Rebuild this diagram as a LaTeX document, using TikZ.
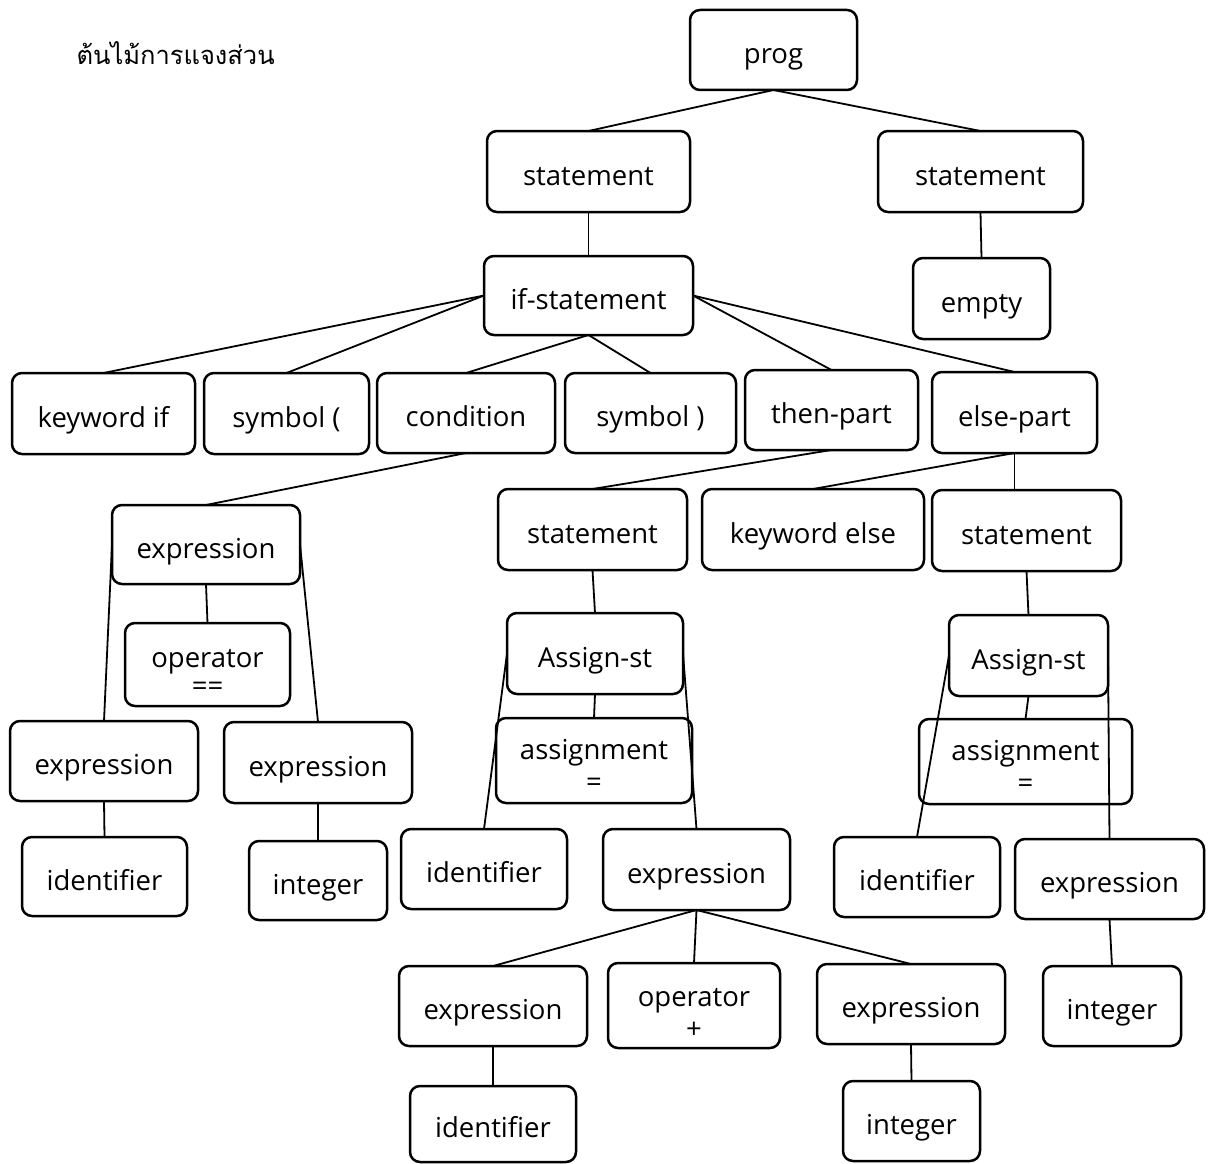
\documentclass[tikz,border=0pt]{standalone}
\usepackage{fontspec}
\setmainfont{Open Sans}
\newfontfamily\thaifont[Script=Thai]{Loma}
\newcommand\lbl{\fontsize{27.5}{27}\selectfont}

\tikzset{
  box/.style={draw, line width=2.5pt, rounded corners=10pt, inner sep=0pt,
              outer sep=0pt, align=center, font=\lbl},
  oneline/.style={text height=30pt, text depth=3pt},
  twoline/.style={},
  link/.style={line width=1.8pt},
}

% \treebox[style]{name}{left}{top}{right}{bottom}{text}
\newcommand\treebox[7][oneline]{%
  \node[box, #1, minimum width={(#5-#3)*1pt}, minimum height={(#6-#4)*1pt}]
    (#2) at ({(#3+#5)/2},{(#4+#6)/2}) {#7};}
% first line of a two-line label, lifted to the given height
\newcommand\topline[2]{\rule{0pt}{#1pt}#2}

\begin{document}
\begin{tikzpicture}[x=1pt,y=-1pt]
\useasboundingbox (0,0) rectangle (1208,1164);

\node[anchor=base west, font=\thaifont\fontsize{25.5}{30}\selectfont] (title) at (73,65) {ต้นไม้การแจงส่วน};

% top levels
\treebox{prog}{690}{10}{857}{90}{prog}
\treebox{stmtL}{487}{131}{690}{212}{statement}
\treebox{stmtR}{878}{131}{1083}{212}{statement}
\treebox{ifst}{484}{256}{693}{335}{if-statement}
\treebox{empty}{913}{258}{1050}{339}{empty}

% children of the if-statement
\treebox{kwif}{12}{373}{195}{454}{keyword if}
\treebox{symL}{204}{373}{369}{454}{symbol (}
\treebox{cond}{377}{373}{555}{453}{condition}
\treebox{symR}{565}{373}{736}{453}{symbol )}
\treebox{then}{745}{370}{918}{450}{then-part}
\treebox{else}{932}{372}{1097}{453}{else-part}

% condition subtree
\treebox{exprC}{112}{505}{300}{584}{expression}
\treebox[twoline]{opEq}{125}{623}{290}{706}{\topline{34}{operator}\\[1pt]==}
\treebox{exprL}{10}{721}{198}{801}{expression}
\treebox{exprR}{224}{722}{412}{803}{expression}
\treebox{idL}{22}{837}{187}{916}{identifier}
\treebox{intL}{249}{841}{387}{920}{integer}

% then / else parts
\treebox{stmtT}{498}{489}{687}{570}{statement}
\treebox{kwelse}{702}{489}{924}{570}{keyword else}
\treebox{stmtE}{932}{490}{1121}{571}{statement}

% then-part assignment
\treebox{asgT}{507}{613}{683}{694}{Assign-st}
\treebox[twoline]{assT}{496}{718}{692}{803}{\topline{30}{assignment}\\[5pt]=}
\treebox{idT}{401}{829}{567}{909}{identifier}
\treebox{exT}{603}{829}{790}{910}{expression}
\treebox{exT1}{399}{966}{587}{1046}{expression}
\treebox[twoline]{opPlus}{608}{963}{780}{1048}{\topline{33}{operator}\\[5pt]+}
\treebox{exT2}{817}{964}{1005}{1044}{expression}
\treebox{idT2}{410}{1086}{576}{1162}{identifier}
\treebox{intT}{843}{1081}{980}{1161}{integer}

% else-part assignment
\treebox{asgE}{949}{615}{1108}{696}{Assign-st}
\treebox[twoline]{assE}{919}{719}{1132}{804}{\topline{29}{assignment}\\[5pt]=}
\treebox{idE}{834}{837}{1000}{917}{identifier}
\treebox{exE}{1015}{839}{1204}{919}{expression}
\treebox{intE}{1043}{966}{1181}{1046}{integer}

% connectors
\draw[link] (prog.south) -- (stmtL.north);
\draw[link] (prog.south) -- (stmtR.north);
\draw[link] (stmtL.south) -- (ifst.north);
\draw[link] (stmtR.south) -- (empty.north);
\draw[link] (ifst.west) -- (kwif.north);
\draw[link] (ifst.west) -- (symL.north);
\draw[link] (ifst.south) -- (cond.north);
\draw[link] (ifst.south) -- (symR.north);
\draw[link] (ifst.east) -- (then.north);
\draw[link] (ifst.east) -- (else.north);

\draw[link] (cond.south) -- (exprC.north);
\draw[link] (exprC.south) -- (opEq.north);
\draw[link] (exprC.west) -- (exprL.north);
\draw[link] (exprC.east) -- (exprR.north);
\draw[link] (exprL.south) -- (idL.north);
\draw[link] (exprR.south) -- (intL.north);

\draw[link] (then.south) -- (stmtT.north);
\draw[link] (else.south) -- (kwelse.north);
\draw[link] (else.south) -- (else.south |- stmtE.north);

\draw[link] (stmtT.south) -- (asgT.north);
\draw[link] (asgT.south) -- (assT.north);
\draw[link] (asgT.west) -- (idT.north);
\draw[link] (asgT.east) -- (exT.north);
\draw[link] (exT.south) -- (exT1.north);
\draw[link] (exT.south) -- (opPlus.north);
\draw[link] (exT.south) -- (exT2.north);
\draw[link] (exT1.south) -- (idT2.north);
\draw[link] (exT2.south) -- (intT.north);

\draw[link] (stmtE.south) -- (asgE.north);
\draw[link] (asgE.south) -- (assE.north);
\draw[link] (asgE.west) -- (idE.north);
\draw[link] (asgE.east) -- (exE.north);
\draw[link] (exE.south) -- (intE.north);
\end{tikzpicture}
\end{document}
